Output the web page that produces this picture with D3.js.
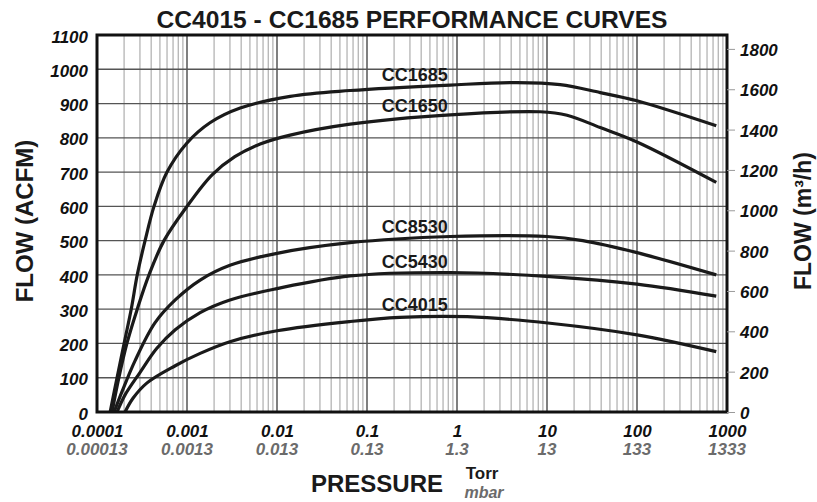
<!DOCTYPE html>
<html>
<head>
<meta charset="utf-8">
<script src="https://cdn.jsdelivr.net/npm/d3@7"></script>
<style>
  body { margin: 0; background: #fff; }
  svg { display: block; font-family: "Liberation Sans", Arial, Helvetica, sans-serif; }
</style>
</head>
<body>
<div id="chart"></div>
<script>
// pressure axis (Torr) with mbar equivalents
const torrTicks = [0.0001, 0.001, 0.01, 0.1, 1, 10, 100, 1000];
const torrLabels = ['0.0001', '0.001', '0.01', '0.1', '1', '10', '100', '1000'];
const mbarLabels = ['0.00013', '0.0013', '0.013', '0.13', '1.3', '13', '133', '1333'];

// flow axes
const acfmTicks = [0, 100, 200, 300, 400, 500, 600, 700, 800, 900, 1000, 1100];
const m3hTicks = [0, 200, 400, 600, 800, 1000, 1200, 1400, 1600, 1800];
const acfmToM3h = 1.699;

// curves: pressure (Torr) -> flow (ACFM)
const cc1685Torr = [1.4e-4, 1.67e-4, 2.0e-4, 2.4e-4, 2.8e-4, 3.42e-4, 4.3e-4, 6.0e-4, 0.001, 0.0018, 0.0039, 0.014, 0.065, 0.84, 4.6, 14, 39, 100, 760];
const cc1685Acfm = [0, 100, 200, 300, 400, 500, 600, 700, 785, 844, 887, 921, 938, 954, 961, 955, 932, 908, 835];

const cc1650Torr = [1.47e-4, 1.75e-4, 2.15e-4, 2.8e-4, 3.78e-4, 5.55e-4, 0.001, 0.0019, 0.0034, 0.0065, 0.014, 0.065, 0.84, 8.4, 16.7, 39, 100, 760];
const cc1650Acfm = [0, 100, 200, 300, 400, 500, 600, 692, 745, 782, 808, 840, 867, 876, 866, 830, 788, 670];

const cc8530Torr = [1.55e-4, 1.9e-4, 2.65e-4, 4.4e-4, 7.4e-4, 0.0014, 0.003, 0.01, 0.065, 0.84, 10, 25, 100, 760];
const cc8530Acfm = [0, 60, 150, 260, 327, 385, 428, 463, 494, 512, 512, 500, 465, 400];

const cc5430Torr = [1.67e-4, 2.05e-4, 3.0e-4, 4.6e-4, 7.4e-4, 0.0014, 0.003, 0.01, 0.065, 0.84, 10.8, 100, 760];
const cc5430Acfm = [0, 50, 115, 185, 240, 290, 327, 360, 397, 407, 395, 373, 338];

const cc4015Torr = [2.05e-4, 2.51e-4, 3.6e-4, 7.4e-4, 0.0014, 0.003, 0.01, 0.065, 0.23, 1.3, 10.8, 100, 760];
const cc4015Acfm = [0, 40, 85, 135, 171, 205, 237, 264, 276, 278, 259, 225, 176];

const seriesNames = ['CC1685', 'CC1650', 'CC8530', 'CC5430', 'CC4015'];
const seriesTorr = [cc1685Torr, cc1650Torr, cc8530Torr, cc5430Torr, cc4015Torr];
const seriesAcfm = [cc1685Acfm, cc1650Acfm, cc8530Acfm, cc5430Acfm, cc4015Acfm];
const labelTorr = 0.34;

const width = 817;
const height = 502;
const margin = { top: 35, right: 90, bottom: 90, left: 97 };
const plotBottom = height - margin.bottom;
const plotRight = width - margin.right;

const x = d3.scaleLog()
  .domain([torrTicks[0], torrTicks[torrTicks.length - 1]])
  .range([margin.left, plotRight]);

const y = d3.scaleLinear()
  .domain([0, 1100])
  .range([plotBottom, margin.top]);

const y2 = d3.scaleLinear()
  .domain([0, 1100 * acfmToM3h])
  .range([plotBottom, margin.top]);

const svg = d3.select('#chart')
  .append('svg')
  .attr('width', width)
  .attr('height', height);

// vertical grid: light minor lines, dark decade lines
const isDecade = (d) => Math.abs(Math.log10(d) - Math.round(Math.log10(d))) < 1e-9;
svg.append('g')
  .selectAll('line')
  .data(x.ticks().sort((a, b) => isDecade(a) - isDecade(b)))
  .join('line')
  .attr('x1', (d) => x(d))
  .attr('x2', (d) => x(d))
  .attr('y1', margin.top)
  .attr('y2', plotBottom)
  .attr('stroke', (d) => (isDecade(d) ? '#2a2a2a' : '#b4b4b4'))
  .attr('stroke-width', (d) => (isDecade(d) ? 1.2 : 1.3));

// horizontal grid
svg.append('g')
  .selectAll('line')
  .data(acfmTicks)
  .join('line')
  .attr('x1', margin.left)
  .attr('x2', plotRight)
  .attr('y1', (d) => y(d))
  .attr('y2', (d) => y(d))
  .attr('stroke', '#555')
  .attr('stroke-width', 1.3);

// curves
const line = d3.line()
  .x((d) => x(d[0]))
  .y((d) => y(d[1]))
  .curve(d3.curveCatmullRom.alpha(0.5));

const series = seriesNames.map((name, i) => ({
  name,
  points: seriesTorr[i].map((p, j) => [p, seriesAcfm[i][j]]),
}));

svg.append('g')
  .selectAll('path')
  .data(series)
  .join('path')
  .attr('d', (d) => line(d.points))
  .attr('fill', 'none')
  .attr('stroke', '#1a1a1a')
  .attr('stroke-width', 3.2);

// value of a curve at a given pressure (linear in log pressure)
function flowAt(points, p) {
  const lp = Math.log10(p);
  for (let i = 1; i < points.length; i++) {
    const a = Math.log10(points[i - 1][0]);
    const b = Math.log10(points[i][0]);
    if (lp <= b) {
      const t = (lp - a) / (b - a);
      return points[i - 1][1] + t * (points[i][1] - points[i - 1][1]);
    }
  }
  return points[points.length - 1][1];
}

svg.append('g')
  .selectAll('text')
  .data(series)
  .join('text')
  .attr('x', x(labelTorr))
  .attr('y', (d) => y(flowAt(d.points, labelTorr)) - 6)
  .attr('text-anchor', 'middle')
  .attr('font-size', 18)
  .attr('font-weight', 'bold')
  .attr('fill', '#1a1a1a')
  .text((d) => d.name);

// plot frame
svg.append('rect')
  .attr('x', margin.left)
  .attr('y', margin.top)
  .attr('width', plotRight - margin.left)
  .attr('height', plotBottom - margin.top)
  .attr('fill', 'none')
  .attr('stroke', '#111')
  .attr('stroke-width', 3);

const styleTicks = (g, size) => g.selectAll('text')
  .style('font-size', `${size}px`)
  .style('font-weight', 'bold')
  .style('font-style', 'italic')
  .attr('fill', '#111');

// left axis (ACFM)
svg.append('g')
  .attr('transform', `translate(${margin.left - 9},0)`)
  .call(d3.axisLeft(y).tickValues(acfmTicks).tickFormat((d) => `${d}`).tickSize(0).tickPadding(0))
  .attr('font-family', null)
  .call((g) => g.select('.domain').remove())
  .call((g) => styleTicks(g, 17).attr('dy', '0.42em'));

// right axis (m3/h)
svg.append('g')
  .attr('transform', `translate(${plotRight},0)`)
  .call(d3.axisRight(y2).tickValues(m3hTicks).tickFormat((d) => `${d}`).tickSize(8).tickPadding(5))
  .attr('font-family', null)
  .call((g) => g.select('.domain').remove())
  .call((g) => g.selectAll('.tick line').attr('stroke', '#9a9a9a'))
  .call((g) => styleTicks(g, 17).attr('dy', '0.38em'));

// bottom axis: Torr row from the axis, mbar row below
svg.append('g')
  .attr('transform', `translate(0,${plotBottom})`)
  .call(d3.axisBottom(x).tickValues(torrTicks).tickFormat((d, i) => torrLabels[i]).tickSize(0).tickPadding(13))
  .attr('font-family', null)
  .call((g) => g.select('.domain').remove())
  .call((g) => styleTicks(g, 17));

svg.append('g')
  .selectAll('text')
  .data(torrTicks)
  .join('text')
  .attr('x', (d) => x(d))
  .attr('y', plotBottom + 43)
  .attr('text-anchor', 'middle')
  .attr('font-size', 17)
  .attr('font-weight', 'bold')
  .attr('font-style', 'italic')
  .attr('fill', '#6b6b6b')
  .text((d, i) => mbarLabels[i]);

// titles
svg.append('text')
  .attr('x', (margin.left + plotRight) / 2)
  .attr('y', 28)
  .attr('text-anchor', 'middle')
  .attr('font-size', 23)
  .attr('font-weight', 'bold')
  .attr('fill', '#1a1a1a')
  .attr('textLength', 511)
  .attr('lengthAdjust', 'spacingAndGlyphs')
  .text('CC4015 - CC1685 PERFORMANCE CURVES');

svg.append('text')
  .attr('transform', 'translate(33,221) rotate(-90)')
  .attr('text-anchor', 'middle')
  .attr('font-size', 24)
  .attr('font-weight', 'bold')
  .attr('fill', '#1a1a1a')
  .text('FLOW (ACFM)');

svg.append('text')
  .attr('transform', 'translate(811,221) rotate(-90)')
  .attr('text-anchor', 'middle')
  .attr('font-size', 23)
  .attr('font-weight', 'bold')
  .attr('fill', '#1a1a1a')
  .text('FLOW (m³/h)');

svg.append('text')
  .attr('x', 377)
  .attr('y', 492)
  .attr('text-anchor', 'middle')
  .attr('font-size', 24)
  .attr('font-weight', 'bold')
  .attr('fill', '#1a1a1a')
  .text('PRESSURE');

svg.append('text')
  .attr('x', 482)
  .attr('y', 479)
  .attr('text-anchor', 'middle')
  .attr('font-size', 17)
  .attr('font-weight', 'bold')
  .attr('fill', '#1a1a1a')
  .text('Torr');

svg.append('text')
  .attr('x', 484)
  .attr('y', 498)
  .attr('text-anchor', 'middle')
  .attr('font-size', 16)
  .attr('font-weight', 'bold')
  .attr('font-style', 'italic')
  .attr('fill', '#6b6b6b')
  .text('mbar');
</script>
</body>
</html>
